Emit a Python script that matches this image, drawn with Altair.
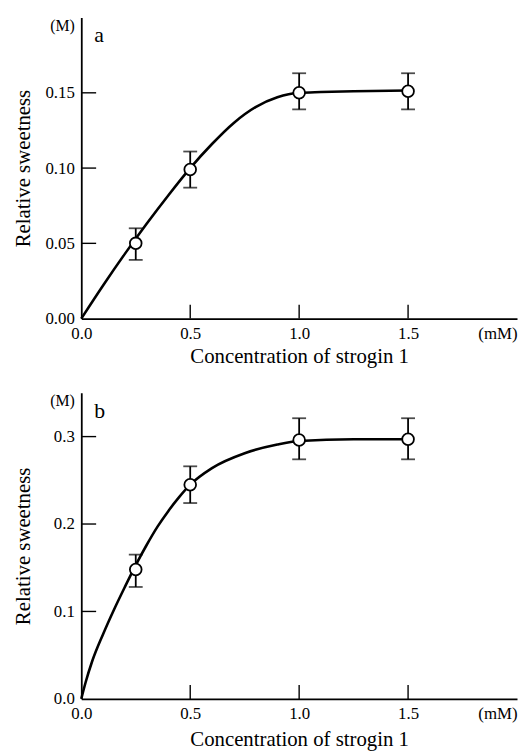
import altair as alt
import pandas as pd

# ---------------- data ----------------
conc = [0.25, 0.5, 1.0, 1.5]

# panel a
sweet_a = [0.050, 0.099, 0.150, 0.151]
lo_a = [0.039, 0.087, 0.139, 0.139]
hi_a = [0.060, 0.111, 0.163, 0.163]
curve_x_a = [0, 0.1, 0.2, 0.3, 0.4, 0.5, 0.6, 0.7, 0.8, 0.9, 1.0, 1.1, 1.25, 1.5]
curve_y_a = [0, 0.022, 0.043, 0.063, 0.082, 0.100, 0.116, 0.130, 0.1405, 0.147, 0.150, 0.1505, 0.151, 0.1515]
ytick_labels_a = [0.0, 0.05, 0.10, 0.15]
ytick_marks_a = [0.05, 0.10, 0.15]

# panel b
sweet_b = [0.148, 0.245, 0.296, 0.297]
lo_b = [0.128, 0.224, 0.274, 0.274]
hi_b = [0.165, 0.266, 0.321, 0.321]
curve_x_b = [0, 0.02, 0.05, 0.1, 0.15, 0.2, 0.25, 0.3, 0.35, 0.4, 0.45, 0.5, 0.6, 0.75, 0.9, 1.0, 1.25, 1.5]
curve_y_b = [0, 0.019, 0.043, 0.074, 0.102, 0.128, 0.153, 0.176, 0.197, 0.215, 0.231, 0.245, 0.264, 0.281, 0.291, 0.295, 0.297, 0.297]
ytick_labels_b = [0.0, 0.1, 0.2, 0.3]
ytick_marks_b = [0.1, 0.2, 0.3]

xtick_labels = [0.0, 0.5, 1.0, 1.5]
xtick_marks = [0.5, 1.0, 1.5]

SERIF = "Liberation Serif"
W = 440


def panel(letter, pts_y, lo, hi, cx, cy, ylab, ymarks, ydom, yfmt, unit_pos, height, xtitle_y):
    xscale = alt.Scale(domain=[0, 2.0], nice=False, zero=False)
    yscale = alt.Scale(domain=ydom, nice=False, zero=False)
    unit_thr = ydom[1] * 0.9
    x_axis = alt.Axis(
        values=xtick_labels + [1.91],
        labelExpr="datum.value > 1.8 ? '(mM)' : format(datum.value, '.1f')",
        title="Concentration of strogin 1",
        ticks=False, tickSize=0, grid=False, labelFlush=False,
        labelPadding=7, titleY=xtitle_y, titleBaseline="middle",
        labelFont=SERIF, titleFont=SERIF, labelFontSize=17, titleFontSize=21,
        titleFontWeight="normal", labelColor="black", titleColor="black",
    )
    y_axis = alt.Axis(
        values=ylab + [unit_pos],
        labelExpr=f"datum.value > {unit_thr} ? '(M)' : format(datum.value, '{yfmt}')",
        labelFontSize={"condition": {"test": f"datum.value > {unit_thr}", "value": 16}, "value": 17},
        title="Relative sweetness",
        ticks=False, tickSize=0, grid=False, labelFlush=False,
        labelPadding=7, titleX=-58, titleY=height / 2, titleBaseline="middle", titleAngle=-90,
        labelFont=SERIF, titleFont=SERIF, titleFontSize=21,
        titleFontWeight="normal", labelColor="black", titleColor="black",
    )
    curve_df = pd.DataFrame({"x": cx, "y": cy})
    pts_df = pd.DataFrame({"x": conc, "y": pts_y, "lo": lo, "hi": hi})

    curve = alt.Chart(curve_df).mark_line(
        interpolate="monotone", color="black", strokeWidth=2.6
    ).encode(
        x=alt.X("x:Q", scale=xscale, axis=x_axis),
        y=alt.Y("y:Q", scale=yscale, axis=y_axis),
    )
    bars = alt.Chart(pts_df).mark_rule(color="black", strokeWidth=1.8).encode(
        x=alt.X("x:Q", scale=xscale), y=alt.Y("lo:Q", scale=yscale), y2="hi:Q"
    )
    cap_lo = alt.Chart(pts_df).mark_tick(
        orient="horizontal", color="black", size=14, thickness=1.8
    ).encode(x=alt.X("x:Q", scale=xscale), y=alt.Y("lo:Q", scale=yscale))
    cap_hi = alt.Chart(pts_df).mark_tick(
        orient="horizontal", color="black", size=14, thickness=1.8
    ).encode(x=alt.X("x:Q", scale=xscale), y=alt.Y("hi:Q", scale=yscale))
    points = alt.Chart(pts_df).mark_point(
        shape="circle", filled=True, fill="white", stroke="black",
        strokeWidth=1.8, size=140, opacity=1
    ).encode(x=alt.X("x:Q", scale=xscale), y=alt.Y("y:Q", scale=yscale))

    ytk = alt.Chart(pd.DataFrame({"v": ymarks})).mark_rule(
        color="black", strokeWidth=1.4
    ).encode(y=alt.Y("v:Q", scale=yscale), x=alt.value(0), x2=alt.value(15))
    xtk = alt.Chart(pd.DataFrame({"v": xtick_marks})).mark_rule(
        color="black", strokeWidth=1.4
    ).encode(x=alt.X("v:Q", scale=xscale), y=alt.value(height), y2=alt.value(height - 14))

    lab = alt.Chart(pd.DataFrame({"label": [letter]})).mark_text(
        align="left", baseline="middle", font=SERIF, fontSize=22, color="black"
    ).encode(x=alt.value(13), y=alt.value(18), text="label:N")

    return alt.layer(ytk, xtk, curve, bars, cap_lo, cap_hi, points, lab).properties(
        width=W, height=height
    )


pa = panel("a", sweet_a, lo_a, hi_a, curve_x_a, curve_y_a, ytick_labels_a, ytick_marks_a,
           [0, 0.2], ".2f", 0.195, 304, 38)
pb = panel("b", sweet_b, lo_b, hi_b, curve_x_b, curve_y_b, ytick_labels_b, ytick_marks_b,
           [0, 0.35], ".1f", 0.341, 309, 41)

chart = alt.vconcat(pa, pb, spacing=26).properties(
    padding={"left": 5, "top": 5, "right": 0, "bottom": 0}
).configure_view(stroke=None).configure_axis(
    labelFont=SERIF, titleFont=SERIF, labelColor="black", titleColor="black",
    labelFontSize=17, titleFontSize=21, titleFontWeight="normal",
    domainColor="black", domainWidth=1.8,
)

chart.save("out.html", embed_options={"renderer": "svg", "actions": False})
